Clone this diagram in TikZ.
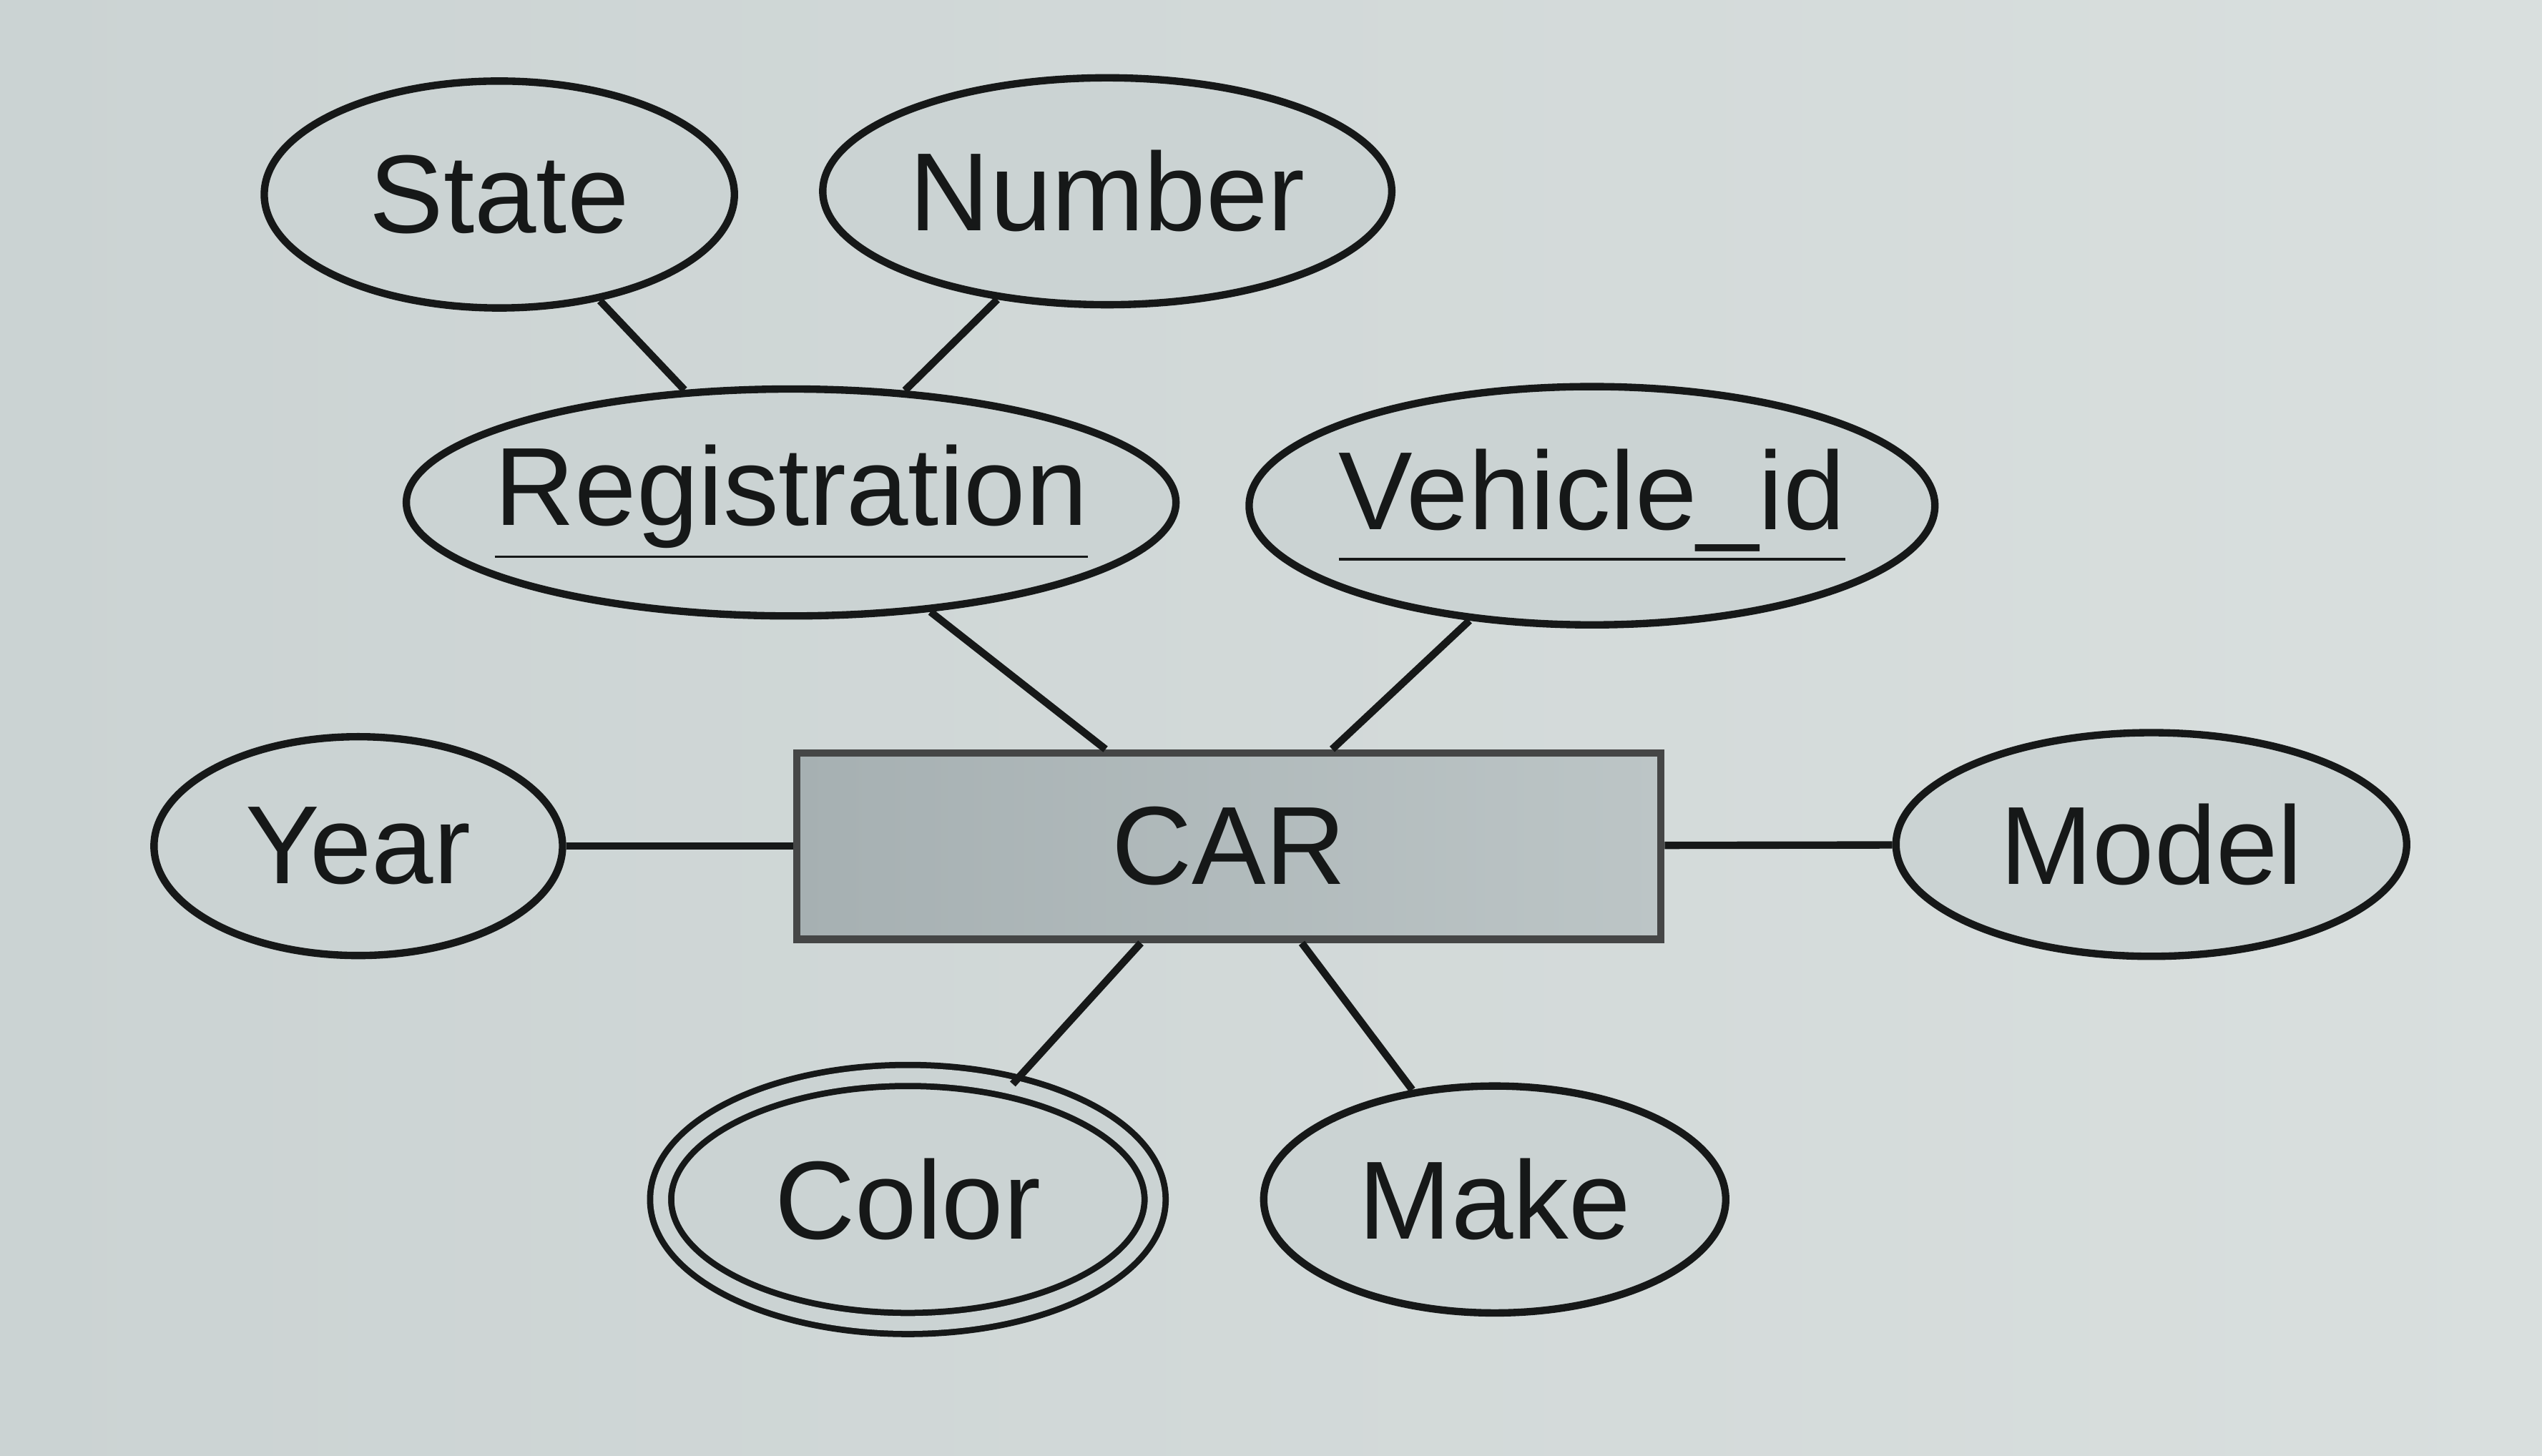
\documentclass[tikz,border=0pt]{standalone}
\usepackage{fontspec}
\setmainfont{Liberation Sans}
\usepackage{xcolor}
\usepackage{tikz}
\usetikzlibrary{shapes.geometric}
\definecolor{screen}{HTML}{CBD3D3}
\definecolor{screenlight}{HTML}{D9DFDE}
\definecolor{ink}{HTML}{161818}
\definecolor{entityfill}{HTML}{A6B0B2}
\definecolor{entitylight}{HTML}{BCC5C6}
\tikzset{
  erLine/.style={draw=ink, line width=1.3pt},
  erAttr/.style={ellipse, draw=ink, line width=1.3pt, fill=screen,
    minimum height=1.4cm, inner sep=0pt, text=ink,
    font=\fontsize{19.5}{23}\selectfont},
  erMulti/.style={erAttr, double=screen, double distance=2.6pt, line width=1.1pt},
  erEntity/.style={rectangle, draw=ink!80, line width=1.3pt,
    left color=entityfill, right color=entitylight,
    minimum width=5.33cm, minimum height=1.15cm, text=ink,
    font=\fontsize{19.5}{23}\selectfont}
}
\begin{document}
\begin{tikzpicture}
  \useasboundingbox (0,0) rectangle (15.68,-8.98);
  \shade[left color=screen, right color=screenlight] (0,0) rectangle (15.68,-8.98);

  \coordinate (car) at (7.58,-5.22);

  \node[erEntity] (CAR) at (car) {CAR};

  \node[erAttr, minimum width=2.9cm] (State) at (3.08,-1.20) {State};
  \node[erAttr, minimum width=3.51cm] (Number) at (6.83,-1.18) {Number};
  \node[erAttr, inner xsep=-0.15cm, minimum width=4.73cm] (Registration) at (4.88,-3.10) {\underline{Registration}};
  \node[erAttr, inner xsep=-0.08cm, minimum width=4.23cm, minimum height=1.47cm] (Vehicle) at (9.82,-3.12) {\underline{Vehicle\_id}};
  \node[erAttr, minimum width=2.52cm, minimum height=1.35cm] (Year) at (2.21,-5.22) {Year};
  \node[erAttr, minimum width=3.15cm, minimum height=1.38cm] (Model) at (13.27,-5.21) {Model};
  \node[erMulti, minimum width=3.05cm, minimum height=1.53cm] (Color) at (5.60,-7.40) {Color};
  \node[erAttr, minimum width=2.85cm] (Make) at (9.22,-7.40) {Make};

  \draw[erLine] (State) -- (Registration);
  \draw[erLine] (Number) -- (Registration);
  \draw[erLine] (Registration) -- (CAR);
  \draw[erLine] (Vehicle) -- (CAR);
  \draw[erLine] (Year) -- (CAR);
  \draw[erLine] (CAR) -- (Model);
  \draw[erLine] (CAR) -- (Color);
  \draw[erLine] (CAR) -- (Make);
\end{tikzpicture}
\end{document}
